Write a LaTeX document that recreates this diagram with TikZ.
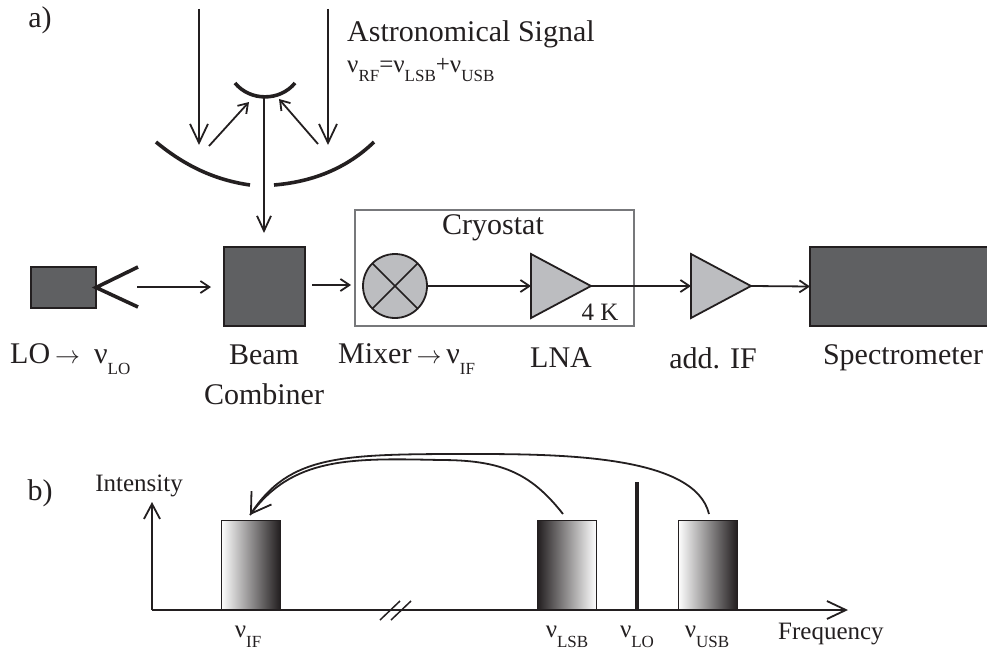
\documentclass[tikz,border=0pt]{standalone}
\usepackage{fontspec}
\setmainfont{Liberation Serif}
\usepackage{amsmath}
\usetikzlibrary{calc}
\usetikzlibrary{shapes}
\usetikzlibrary{arrows.meta}
\newcommand{\nulabel}[1]{ν\raisebox{-0.38em}{\fontsize{17}{17}\selectfont #1}}
\definecolor{boxdark}{HTML}{5F6062}
\definecolor{boxlight}{HTML}{BCBDC0}
\definecolor{inkline}{HTML}{231F20}
\definecolor{cryoline}{HTML}{77787B}
\tikzset{
  lbl/.style={inner sep=0, text=inkline, font=\fontsize{30}{34}\selectfont},
  lblsmall/.style={inner sep=0, text=inkline, font=\fontsize{25}{28}\selectfont},
  darkbox/.style={draw=inkline, line width=1.8pt, fill=boxdark, inner sep=0, outer sep=0},
  amp/.style={draw=inkline, line width=1.8pt, fill=boxlight, shape=isosceles triangle, isosceles triangle stretches, inner sep=0, outer sep=0, minimum width=64pt, minimum height=60pt},
  sig/.style={draw=inkline, line width=1.8pt, -{Straight Barb[length=9pt,width=12pt]}},
  bigsig/.style={draw=inkline, line width=1.8pt, -{Straight Barb[length=19pt,width=18pt]}},
  mirror/.style={draw=inkline, line width=3.6pt},
  bar/.style={draw=inkline, line width=0.8pt, inner sep=0, outer sep=0, minimum width=59pt, minimum height=90pt},
}
\begin{document}
\begin{tikzpicture}[x=1pt, y=-1pt]
  \useasboundingbox (0,0) rectangle (987,650);

  \node[lbl] (parta) at (40,20) {a)};
  \node[lbl, anchor=west] (signal) at (347,34) {Astronomical Signal};
  \node[lblsmall, anchor=west] (rflabel) at (347,70) {\nulabel{RF}=\nulabel{LSB}+\nulabel{USB}};

  \coordinate (inleft) at (199,9);
  \coordinate (inright) at (328,9);
  \coordinate (hitleft) at (199,145);
  \coordinate (hitright) at (328,145);
  \coordinate (upleft) at (209,146);
  \coordinate (upright) at (318,144);
  \coordinate (subleft) at (249,102);
  \coordinate (subright) at (279,99);
  \coordinate (subout) at (264,98);
  \coordinate (combin) at (264,233);

  \draw[mirror] (156,142) .. controls (185,166) and (215,180) .. (250,185);
  \draw[mirror] (274,185) .. controls (310,182) and (345,170) .. (374,142);
  \draw[mirror] (235,83) .. controls (250,101.5) and (280,101.5) .. (295,83);
  \draw[bigsig] (inleft) -- (hitleft);
  \draw[bigsig] (inright) -- (hitright);
  \draw[sig] (upleft) -- (subleft);
  \draw[sig] (upright) -- (subright);

  \node[darkbox, minimum width=65pt, minimum height=41pt] (lo) at (63.5,287.5) {};
  \node[darkbox, minimum width=81pt, minimum height=79pt] (combiner) at (264.5,286.5) {};
  \node[draw=cryoline, line width=2pt, inner sep=0, outer sep=0, minimum width=279pt, minimum height=116pt] (cryostat) at (494.5,268) {};
  \node[draw=inkline, line width=1.8pt, fill=boxlight, shape=circle, inner sep=0, outer sep=0, minimum size=64pt] (mixer) at (395,286) {};
  \node[amp, anchor=west] (lna) at (531,286) {};
  \node[amp, anchor=west] (ifamp) at (691,286) {};
  \node[darkbox, anchor=west, minimum width=180pt, minimum height=79pt] (spec) at (810,286.5) {};

  \coordinate (hornup) at (138,267);
  \coordinate (horndown) at (138,307);
  \coordinate (loout) at (137,287);
  \coordinate (loin) at (211,287);
  \coordinate (combout) at (312,285);
  \coordinate (mixin) at (351,285);

  \draw[mirror] (hornup) -- (lo.east) -- (horndown);
  \draw[sig] (loout) -- (loin);
  \draw[bigsig, -{Straight Barb[length=15pt,width=14pt]}] (subout) -- (combin);
  \draw[sig] (combout) -- (mixin);
  \draw[inkline, line width=1.5pt] (mixer.45) -- (mixer.225);
  \draw[inkline, line width=1.5pt] (mixer.135) -- (mixer.315);
  \draw[sig] (mixer.east) -- (lna.west);
  \draw[sig] (lna.east) -- (ifamp.west);
  \draw[sig] (ifamp.east) -- (spec.west);

  \node[lbl] (cryolabel) at (493,228) {Cryostat};
  \node[lblsmall] (cold) at (600,312) {4 K};
  \node[lbl, anchor=west] (lolabel) at (10,359) {LO\,$\rightarrow$\hspace{14pt}\nulabel{LO}};
  \node[lbl] (beamlabel) at (264,355) {Beam};
  \node[lbl] (comblabel) at (264,394) {Combiner};
  \node[lbl, anchor=west] (mixlabel) at (338,359) {Mixer\,$\rightarrow$\,\nulabel{IF}};
  \node[lbl] (lnalabel) at (561,358) {LNA};
  \node[lbl] (iflabel) at (713,358) {add. IF};
  \node[lbl] (speclabel) at (903,358) {Spectrometer};

  \node[lbl] (partb) at (40,493) {b)};
  \node[lblsmall] (intensity) at (139,486) {Intensity};
  \coordinate (origin) at (152,610);
  \coordinate (yend) at (152,502);
  \coordinate (xend) at (848,610);

  \node[bar, anchor=south, left color=white, right color=inkline] (ifbar) at (250.5,610) {};
  \node[bar, anchor=south, left color=inkline, right color=white] (lsbbar) at (567,610) {};
  \node[bar, anchor=south, left color=white, right color=inkline] (usbbar) at (707.5,610) {};
  \coordinate (lotop) at (637,482);
  \coordinate (lobase) at (637,610);
  \draw[inkline, line width=4pt] (lotop) -- (lobase);

  \draw[sig, -{Straight Barb[length=15pt,width=16pt]}] (origin) -- (yend);
  \draw[sig, -{Straight Barb[length=19pt,width=18pt]}] (origin) -- (xend);
  \draw[inkline, line width=1.5pt] (380,620) -- (400,601);
  \draw[inkline, line width=1.5pt] (391,620) -- (411,601);

  \coordinate (lsbfrom) at (563,514);
  \coordinate (usbfrom) at (709,514);
  \coordinate (iftip) at (250,515);
  \draw[inkline, line width=1.8pt] (lsbfrom) .. controls (530,472) and (500,460) .. (440,460) .. controls (350,458) and (292,457) .. (iftip);
  \draw[bigsig, -{Straight Barb[length=19pt,width=24pt]}] (usbfrom) .. controls (695,455) and (560,454) .. (470,454) .. controls (340,454) and (290,455) .. (iftip);

  \node[lblsmall] (iftick) at (248,637) {\nulabel{IF}};
  \node[lblsmall] (lsbtick) at (567,637) {\nulabel{LSB}};
  \node[lblsmall] (lotick) at (637,637) {\nulabel{LO}};
  \node[lblsmall] (usbtick) at (707,637) {\nulabel{USB}};
  \node[lblsmall, anchor=west] (freq) at (778,634) {Frequency};
\end{tikzpicture}
\end{document}
